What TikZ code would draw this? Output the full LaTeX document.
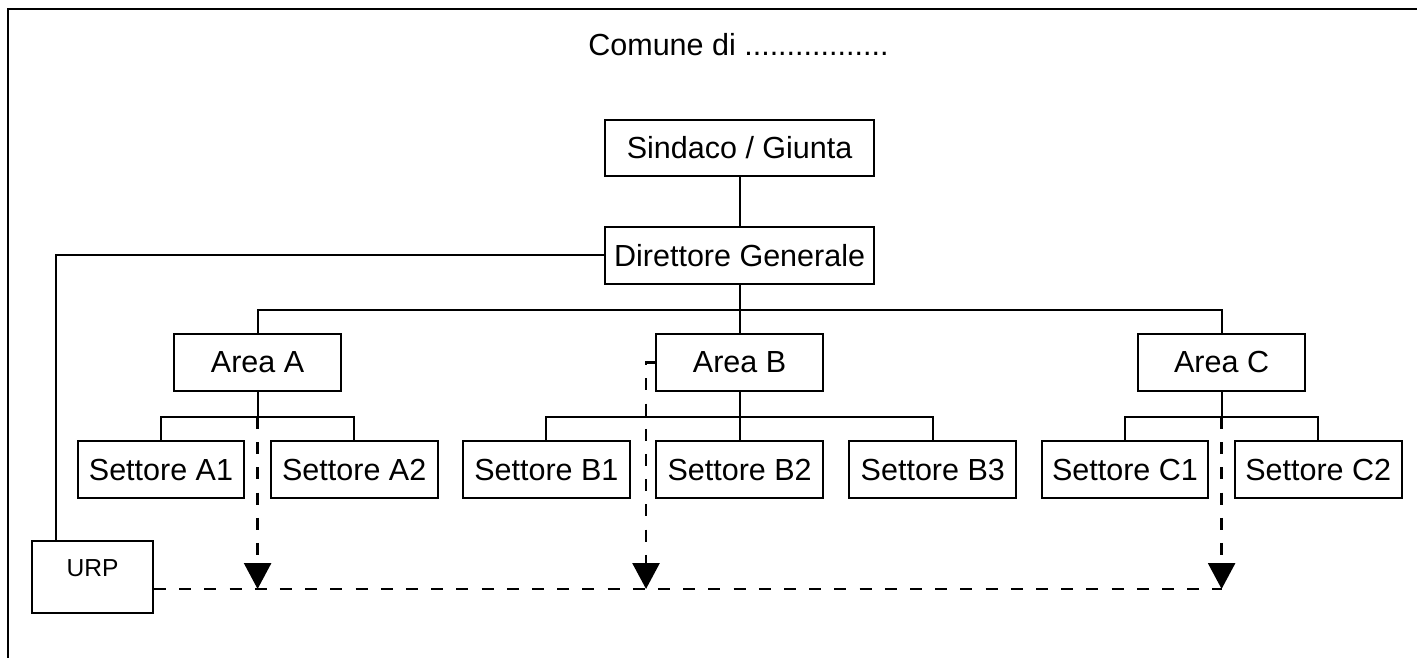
\documentclass[tikz,border=0pt]{standalone}
\usepackage{fontspec}
\setmainfont{Liberation Sans}
\usepackage{tikz}
\usetikzlibrary{arrows.meta}
\newcommand{\comune}{Comune di .................}

\begin{document}
\begin{tikzpicture}[
	level distance=2.68cm,
	every child node/.style=unit,
	level 2/.style={sibling distance=12.05cm},
	level 3/.style={sibling distance=4.83cm},
	edge from parent/.style={draw, line width=1.4pt},
	edge from parent path={(\tikzparentnode.south) -- ++(0,-0.63) -| (\tikzchildnode.north)},
	unit/.style={draw, line width=1.4pt, minimum width=4.17cm, minimum height=1.42cm, inner sep=0pt, font=\fontsize{21.7}{26}\selectfont},
	wide/.style={minimum width=6.72cm},
	dline/.style={line width=2pt, dash pattern=on 0.3cm off 0.33cm},
	tip/.style={-{Triangle[width=0.675cm,length=0.65cm]}}]
\useasboundingbox (0,0) rectangle (35.425,16.425);
\draw[line width=2.1pt] (0.2,-0.1) -- (0.2,16.2) -- (35.6,16.2);

\node[font=\fontsize{21.7}{26}\selectfont, anchor=base] (title) at (18.46,15.025) {\comune};

\node[unit, wide] (sg) at (18.49,12.725) {Sindaco / Giunta}
	child {node[wide] (dg) {Direttore Generale}
		child {node (aA) {Area A}
			child {node (sA1) {Settore A1}}
			child {node (sA2) {Settore A2}}}
		child {node (aB) {Area B}
			child {node (sB1) {Settore B1}}
			child {node (sB2) {Settore B2}}
			child {node (sB3) {Settore B3}}}
		child {node (aC) {Area C}
			child {node (sC1) {Settore C1}}
			child {node (sC2) {Settore C2}}}};

\node[unit, minimum width=3.025cm, minimum height=1.8cm, text height=0.9cm, text depth=0.9cm, font=\fontsize{17.5}{20}\selectfont] (urp) at (2.3125,2.0) {URP};

\coordinate (urpin) at ([xshift=0.625cm]urp.north west);
\coordinate (urpout) at ([yshift=-0.3cm]urp.east);
\coordinate (jA) at ([yshift=-0.63cm]aA.south);
\coordinate (jC) at ([yshift=-0.63cm]aC.south);
\coordinate (bk) at ([xshift=-0.23cm]aB.west);

\draw[line width=1.4pt] (dg.west) -| (urpin);
\draw[dline] (urpout) -- (urpout -| jC);
\draw[dline, tip] (jA) -- (jA |- urpout);
\draw[dline, tip] (aB.west) -- (bk) -- (bk |- urpout);
\draw[dline, tip] (jC) -- (jC |- urpout);
\end{tikzpicture}
\end{document}
